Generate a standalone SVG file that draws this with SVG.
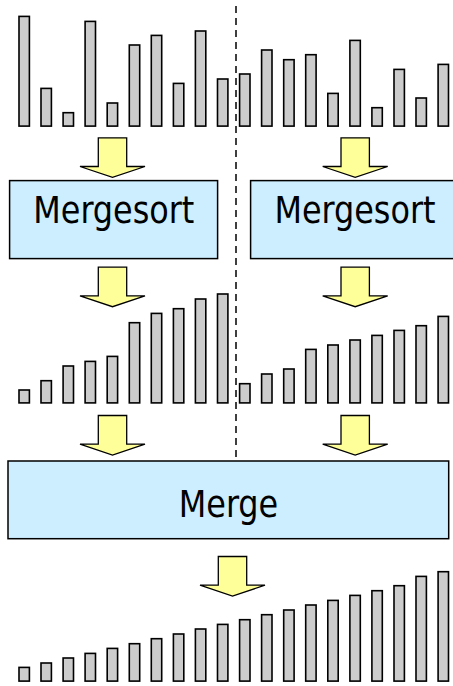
<svg xmlns="http://www.w3.org/2000/svg" xmlns:xlink="http://www.w3.org/1999/xlink" width="453" height="686" viewBox="0 0 453 686">
<style>
.bar{fill:#cccccc;stroke:#000000;stroke-width:1.6}
.box{fill:#cceeff;stroke:#000000;stroke-width:1.5}
.arr{fill:#ffff99;stroke:#000000;stroke-width:1.3;stroke-linejoin:miter}
.lbl{font-family:"DejaVu Sans Condensed","DejaVu Sans",sans-serif;font-size:37px;fill:#000000;text-anchor:middle}
.div{stroke:#000000;stroke-width:1.5;stroke-dasharray:7,5;fill:none}
</style>
<defs>
<path id="arrow" d="M-14.2,0 H14.2 V28.7 H32.5 L0,39.5 L-32.5,28.7 H-14.2 Z"/>
</defs>
<rect width="453" height="686" fill="#ffffff"/>
<line id="divider" class="div" x1="236" y1="6" x2="236" y2="460"/>
<g id="input-bars">
<rect class="bar" x="19" y="16.4" width="10.4" height="109.7"/>
<rect class="bar" x="41" y="88.4" width="10.4" height="37.7"/>
<rect class="bar" x="63.1" y="112.7" width="10.4" height="13.4"/>
<rect class="bar" x="85.1" y="21.4" width="10.4" height="104.7"/>
<rect class="bar" x="107.2" y="103" width="10.4" height="23.1"/>
<rect class="bar" x="129.3" y="45" width="10.4" height="81.1"/>
<rect class="bar" x="151.3" y="35.4" width="10.4" height="90.7"/>
<rect class="bar" x="173.4" y="83.4" width="10.4" height="42.7"/>
<rect class="bar" x="195.4" y="31" width="10.4" height="95.1"/>
<rect class="bar" x="217.5" y="79" width="10.4" height="47.1"/>
<rect class="bar" x="239.6" y="74" width="10.4" height="52.1"/>
<rect class="bar" x="261.6" y="50" width="10.4" height="76.1"/>
<rect class="bar" x="283.7" y="59.7" width="10.4" height="66.4"/>
<rect class="bar" x="305.7" y="54.7" width="10.4" height="71.4"/>
<rect class="bar" x="327.8" y="93.4" width="10.4" height="32.7"/>
<rect class="bar" x="349.9" y="40.4" width="10.4" height="85.7"/>
<rect class="bar" x="371.9" y="107.7" width="10.4" height="18.4"/>
<rect class="bar" x="394" y="69.4" width="10.4" height="56.7"/>
<rect class="bar" x="416" y="98" width="10.4" height="28.1"/>
<rect class="bar" x="438.1" y="64.4" width="10.4" height="61.7"/>
</g>
<g id="mergesort-left">
<rect class="box" x="9.6" y="180.6" width="208" height="78"/>
<text class="lbl" x="113.8" y="222.7" textLength="161" lengthAdjust="spacingAndGlyphs">Mergesort</text>
</g>
<g id="mergesort-right">
<rect class="box" x="250.6" y="180.6" width="210" height="78"/>
<text class="lbl" x="355" y="222.7" textLength="161" lengthAdjust="spacingAndGlyphs">Mergesort</text>
</g>
<g id="sorted-halves">
<rect class="bar" x="19" y="390" width="10.4" height="12.9"/>
<rect class="bar" x="41" y="380.7" width="10.4" height="22.2"/>
<rect class="bar" x="63.1" y="366" width="10.4" height="36.9"/>
<rect class="bar" x="85.1" y="361.4" width="10.4" height="41.5"/>
<rect class="bar" x="107.2" y="356.4" width="10.4" height="46.5"/>
<rect class="bar" x="129.3" y="322.7" width="10.4" height="80.2"/>
<rect class="bar" x="151.3" y="313.4" width="10.4" height="89.5"/>
<rect class="bar" x="173.4" y="308.7" width="10.4" height="94.2"/>
<rect class="bar" x="195.4" y="299" width="10.4" height="103.9"/>
<rect class="bar" x="217.5" y="294" width="10.4" height="108.9"/>
<rect class="bar" x="239.6" y="383.7" width="10.4" height="19.2"/>
<rect class="bar" x="261.6" y="374" width="10.4" height="28.9"/>
<rect class="bar" x="283.7" y="369" width="10.4" height="33.9"/>
<rect class="bar" x="305.7" y="349.4" width="10.4" height="53.5"/>
<rect class="bar" x="327.8" y="345" width="10.4" height="57.9"/>
<rect class="bar" x="349.9" y="340" width="10.4" height="62.9"/>
<rect class="bar" x="371.9" y="335.4" width="10.4" height="67.5"/>
<rect class="bar" x="394" y="330.4" width="10.4" height="72.5"/>
<rect class="bar" x="416" y="325.7" width="10.4" height="77.2"/>
<rect class="bar" x="438.1" y="316.4" width="10.4" height="86.5"/>
</g>
<g id="merge">
<rect class="box" x="8" y="461" width="440.7" height="77.7"/>
<text class="lbl" x="228.5" y="516.7" textLength="99.5" lengthAdjust="spacingAndGlyphs">Merge</text>
</g>
<g id="sorted-output">
<rect class="bar" x="19" y="667.4" width="10.4" height="13.7"/>
<rect class="bar" x="41" y="663" width="10.4" height="18.1"/>
<rect class="bar" x="63.1" y="658" width="10.4" height="23.1"/>
<rect class="bar" x="85.1" y="653.4" width="10.4" height="27.7"/>
<rect class="bar" x="107.2" y="648.4" width="10.4" height="32.7"/>
<rect class="bar" x="129.3" y="643.7" width="10.4" height="37.4"/>
<rect class="bar" x="151.3" y="638.7" width="10.4" height="42.4"/>
<rect class="bar" x="173.4" y="634" width="10.4" height="47.1"/>
<rect class="bar" x="195.4" y="629" width="10.4" height="52.1"/>
<rect class="bar" x="217.5" y="624.4" width="10.4" height="56.7"/>
<rect class="bar" x="239.6" y="619.7" width="10.4" height="61.4"/>
<rect class="bar" x="261.6" y="614.7" width="10.4" height="66.4"/>
<rect class="bar" x="283.7" y="610" width="10.4" height="71.1"/>
<rect class="bar" x="305.7" y="605" width="10.4" height="76.1"/>
<rect class="bar" x="327.8" y="600.4" width="10.4" height="80.7"/>
<rect class="bar" x="349.9" y="595.4" width="10.4" height="85.7"/>
<rect class="bar" x="371.9" y="590.7" width="10.4" height="90.4"/>
<rect class="bar" x="394" y="585.7" width="10.4" height="95.4"/>
<rect class="bar" x="416" y="576.4" width="10.4" height="104.7"/>
<rect class="bar" x="438.1" y="571.7" width="10.4" height="109.4"/>
</g>
<g id="connectors">
<use class="arr" xlink:href="#arrow" href="#arrow" transform="translate(112.5,137.8)"/>
<use class="arr" xlink:href="#arrow" href="#arrow" transform="translate(355.2,137.8)"/>
<use class="arr" xlink:href="#arrow" href="#arrow" transform="translate(112.5,267.2)"/>
<use class="arr" xlink:href="#arrow" href="#arrow" transform="translate(355.2,267.2)"/>
<use class="arr" xlink:href="#arrow" href="#arrow" transform="translate(112.5,415.5)"/>
<use class="arr" xlink:href="#arrow" href="#arrow" transform="translate(355.2,415.5)"/>
<use class="arr" xlink:href="#arrow" href="#arrow" transform="translate(232.5,556.5)"/>
</g>
</svg>
